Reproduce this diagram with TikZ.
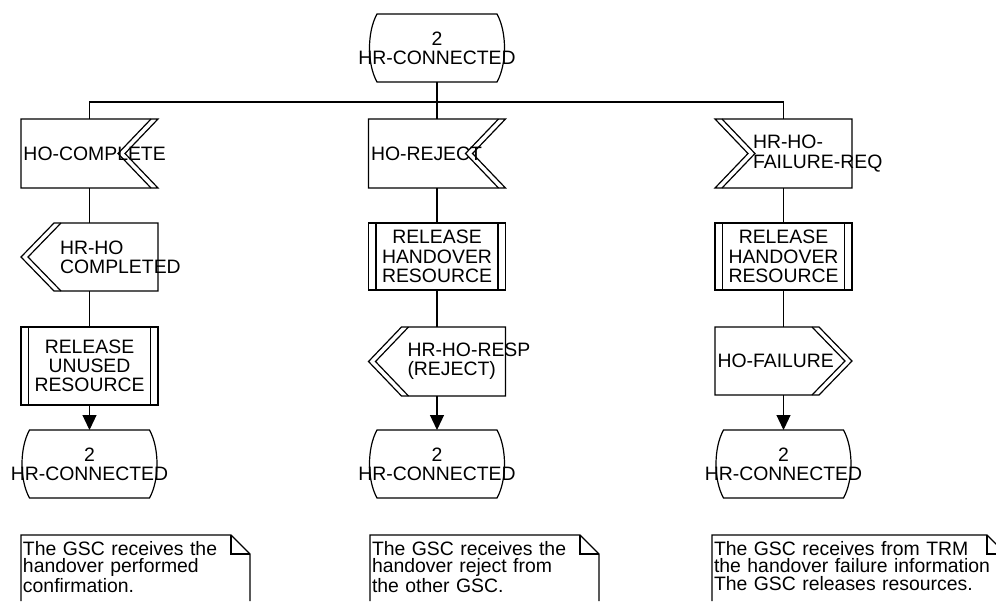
\documentclass[tikz,border=0pt]{standalone}
\usepackage{fontspec}
\setmainfont{Liberation Sans}
\usetikzlibrary{arrows.meta, positioning}

\exhyphenpenalty=10000
\hyphenpenalty=10000
\lineskiplimit=-10pt

\tikzset{
  sdlline/.style={draw=black, line width=0.6pt},
}

\begin{document}
\begin{tikzpicture}[
    x=0.5pt, y=-0.5pt,
    every node/.style={font=\fontsize{9.7pt}{9.6pt}\selectfont, inner sep=0pt, outer sep=0pt},
    sdlstate/.style={minimum height=34pt, align=center, append after command={\pgfextra{
      \draw[sdlline] ([xshift=-30pt]\tikzlastnode.north) -- ([xshift=30pt]\tikzlastnode.north)
        .. controls +(5pt,-9pt) and +(5pt,9pt) .. ([xshift=30pt]\tikzlastnode.south)
        -- ([xshift=-30pt]\tikzlastnode.south)
        .. controls +(-5pt,9pt) and +(-5pt,-9pt) .. ([xshift=-30pt]\tikzlastnode.north) -- cycle;}}},
    sdlin/.style={minimum width=68.5pt, minimum height=34.5pt, text width=66pt, align=left, append after command={\pgfextra{
      \draw[sdlline] (\tikzlastnode.north west) -- (\tikzlastnode.north east) -- ([xshift=-16.5pt]\tikzlastnode.east)
        -- (\tikzlastnode.south east) -- (\tikzlastnode.south west) -- cycle;
      \draw[sdlline] ([xshift=-3.5pt]\tikzlastnode.north east) -- ([xshift=-20pt]\tikzlastnode.east)
        -- ([xshift=-3.5pt]\tikzlastnode.south east);}}},
    sdlinleft/.style={minimum width=68.5pt, minimum height=34.5pt, text width=30.5pt, align=left, append after command={\pgfextra{
      \draw[sdlline] (\tikzlastnode.north west) -- (\tikzlastnode.north east) -- (\tikzlastnode.south east)
        -- (\tikzlastnode.south west) -- ([xshift=16.5pt]\tikzlastnode.west) -- cycle;
      \draw[sdlline] ([xshift=3.5pt]\tikzlastnode.north west) -- ([xshift=20pt]\tikzlastnode.west)
        -- ([xshift=3.5pt]\tikzlastnode.south west);}}},
    sdloutl/.style={minimum width=68.5pt, minimum height=34pt, text width=29.5pt, align=left, append after command={\pgfextra{
      \draw[sdlline] ([xshift=16.5pt]\tikzlastnode.north west) -- (\tikzlastnode.north east) -- (\tikzlastnode.south east)
        -- ([xshift=16.5pt]\tikzlastnode.south west) -- (\tikzlastnode.west) -- cycle;
      \draw[sdlline] ([xshift=20pt]\tikzlastnode.north west) -- ([xshift=3.5pt]\tikzlastnode.west)
        -- ([xshift=20pt]\tikzlastnode.south west);}}},
    sdloutr/.style={minimum width=68.5pt, minimum height=34pt, text width=66pt, align=left, append after command={\pgfextra{
      \draw[sdlline] (\tikzlastnode.north west) -- ([xshift=-16.5pt]\tikzlastnode.north east) -- (\tikzlastnode.east)
        -- ([xshift=-16.5pt]\tikzlastnode.south east) -- (\tikzlastnode.south west) -- cycle;
      \draw[sdlline] ([xshift=-20pt]\tikzlastnode.north east) -- ([xshift=-3.5pt]\tikzlastnode.east)
        -- ([xshift=-20pt]\tikzlastnode.south east);}}},
    sdlproc/.style={sdlline, minimum width=68.5pt, minimum height=33.5pt, align=center, append after command={\pgfextra{
      \draw[sdlline] ([xshift=3.75pt]\tikzlastnode.north west) -- ([xshift=3.75pt]\tikzlastnode.south west);
      \draw[sdlline] ([xshift=-3.75pt]\tikzlastnode.north east) -- ([xshift=-3.75pt]\tikzlastnode.south east);}}},
    sdlnote/.style={anchor=north west, text width=#1, align=left, inner xsep=1pt, inner ysep=3pt,
      font=\fontsize{9.7pt}{8.8pt}\selectfont, append after command={\pgfextra{
      \draw[sdlline] (\tikzlastnode.north west |- foot) -- (\tikzlastnode.north west) -- ([xshift=-9.5pt]\tikzlastnode.north east)
        -- ([yshift=-9.5pt]\tikzlastnode.north east) -- (\tikzlastnode.north east |- foot);
      \draw[sdlline] ([xshift=-9.5pt]\tikzlastnode.north east) |- ([yshift=-9.5pt]\tikzlastnode.north east);}}},
    arrowline/.style={sdlline, -{Triangle[width=7pt, length=7.5pt]}},
]

\useasboundingbox (0,0) rectangle (996,601);
\clip (0,0) rectangle (996,601);

\coordinate (bus) at (437,102);
\coordinate (foot) at (0,601);

\node[sdlstate] (start) at (437,48) {2\\HR-CONNECTED};

% signals received
\node[sdlin] (complete) at (89.5,153.5) {HO-COMPLETE};
\node[sdlin] (reject) at (437,153.5) {HO-REJECT};
\node[sdlinleft] (failreq) at (783.5,153.5) {HR-HO-\\FAILURE-REQ};

\node[sdloutl, below=17.5pt of complete] (completed) {HR-HO\\COMPLETED};
\node[sdlproc, below=17.5pt of reject] (relho2) {RELEASE\\HANDOVER\\RESOURCE};
\node[sdlproc, below=17.5pt of failreq] (relho3) {RELEASE\\HANDOVER\\RESOURCE};

\node[sdlproc, minimum height=39pt, below=18pt of completed] (relunused) {RELEASE\\UNUSED\\RESOURCE};
\node[sdloutl, minimum height=34.5pt, below=18.5pt of relho2] (resp) {HR-HO-RESP\\(REJECT)};
\node[sdloutr, below=18.5pt of relho3] (hofail) {HO-FAILURE};

% next states
\node[sdlstate, below=12.5pt of relunused] (end1) {2\\HR-CONNECTED};
\node[sdlstate, below=17pt of resp] (end2) {2\\HR-CONNECTED};
\node[sdlstate, below=17.5pt of hofail] (end3) {2\\HR-CONNECTED};

\draw[sdlline] (start.south) -- (bus);
\draw[sdlline] (complete.north) |- (bus) -| (failreq.north);
\draw[sdlline] (bus) -- (reject.north);

\draw[sdlline] (complete.south) -- (completed.north);
\draw[sdlline] (completed.south) -- (relunused.north);
\draw[sdlline] (reject.south) -- (relho2.north);
\draw[sdlline] (relho2.south) -- (resp.north);
\draw[sdlline] (failreq.south) -- (relho3.north);
\draw[sdlline] (relho3.south) -- (hofail.north);

\draw[arrowline] (relunused.south) -- (end1.north);
\draw[arrowline] (resp.south) -- (end2.north);
\draw[arrowline] (hofail.south) -- (end3.north);

% comments
\node[sdlnote=112.5pt] (note1) at (21,535) {The GSC receives the\\handover performed\\confirmation.};
\node[sdlnote=112.5pt] (note2) at (370,535) {The GSC receives the\\handover reject from\\the other GSC.};
\node[sdlnote=145pt] (note3) at (712,535) {The GSC receives from TRM\\the handover failure information\\The GSC releases resources.};

\end{tikzpicture}
\end{document}
